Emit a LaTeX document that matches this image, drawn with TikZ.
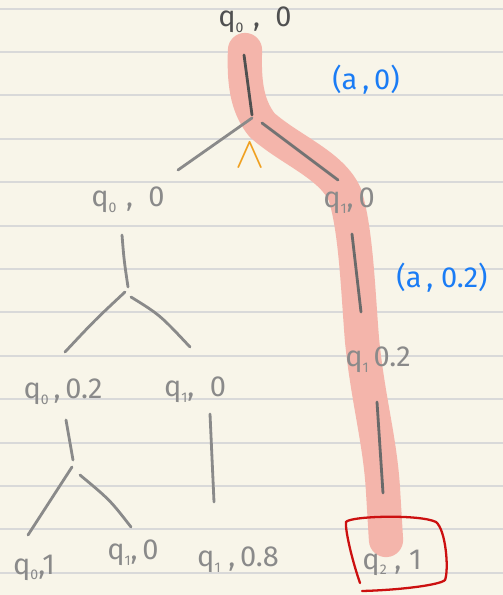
\documentclass[tikz,border=0pt]{standalone}
\usepackage{fontspec}
\setmainfont{Fira Sans}
\definecolor{paper}{HTML}{F8F5E9}
\definecolor{rule}{HTML}{D9D9D9}
\definecolor{inkdark}{HTML}{505050}
\definecolor{inkgray}{HTML}{8A8A8A}
\definecolor{inkblue}{HTML}{1A7CF5}
\definecolor{inkorange}{HTML}{F0A020}
\definecolor{inkred}{HTML}{CC1010}
\definecolor{hilite}{HTML}{F4B5AB}
\newcommand{\qsb}[1]{q\raisebox{-0.35ex}{\footnotesize #1}}
\begin{document}
\begin{tikzpicture}[x=0.02cm,y=-0.02cm,
  lbl/.style={font=\fontsize{16.5}{16.5}\selectfont, text=inkgray, inner sep=0pt},
  lbldark/.style={lbl, text=inkdark},
  note/.style={font=\fontsize{16.5}{16.5}\selectfont, text=inkblue, inner sep=0pt},
  stroke/.style={draw=inkgray, line width=1.6pt, line cap=round},
  strokedark/.style={draw=inkdark, line width=1.6pt, line cap=round},
  hl/.style={draw=hilite, line width=19.5pt, line cap=round, line join=round}]
% paper
\fill[paper] (0,0) rectangle (503,595);
\useasboundingbox (0,0) rectangle (503,595);
\foreach \k in {0,...,13}{
  \draw[rule, line width=1.1pt] (0,{8.6+43.4*\k}) -- (503,{8.6+43.4*\k});
}
% highlight
\draw[hl] (245,50) .. controls (244,80) and (246,105) .. (262,125)
  .. controls (290,150) and (332,165) .. (345,195)
  .. controls (356,230) and (358,290) .. (362,340)
  .. controls (368,400) and (380,440) .. (383,490) -- (386,540);
% labels
\node[lbldark] (r) at (255,20) {\qsb{0}\,\,,\ \ 0};
\node[lbl] (a) at (128,200) {\qsb{0}\,\,,\ \ 0};
\node[lbl] (b) at (349,201) {\qsb{1},\,0};
\node[lbl] (aa) at (63,392) {\qsb{0}\,,\,0.2};
\node[lbl] (ab) at (195,390) {\qsb{1},\ \ 0};
\node[lbl] (ba) at (378,360) {\qsb{1}\,0.2};
\node[lbl] (aaa) at (34,568) {\qsb{0},1};
\node[lbl] (aab) at (133,553) {\qsb{1},\,0};
\node[lbl] (aba) at (238,560) {\qsb{1}\ ,\,0.8};
\node[lbl] (baa) at (392,563) {\qsb{2}\ ,\ 1};
\node[note] (n1) at (366,80) {(a\,,\,0)};
\node[note] (n2) at (442,278) {(a\,,\ 0.2)};
\node[text=inkorange, inner sep=0pt, font=\fontsize{34}{34}\selectfont] (and) at (250,155) {$\wedge$};
% junctions and stroke ends
\coordinate (r1) at (244,55);  \coordinate (rj) at (252,115);
\coordinate (rl) at (252,118); \coordinate (al) at (178,170);
\coordinate (rr) at (262,123); \coordinate (br) at (338,180);
\coordinate (a1) at (122,235); \coordinate (aj) at (128,287);
\coordinate (ajl) at (125,292); \coordinate (aal) at (65,352);
\coordinate (ajr) at (131,297); \coordinate (abr) at (190,347);
\coordinate (aa1) at (66,420); \coordinate (aaj) at (73,460);
\coordinate (aajl) at (72,467); \coordinate (aaal) at (28,535);
\coordinate (aajr) at (80,475); \coordinate (aabr) at (131,527);
\coordinate (ab1) at (210,414); \coordinate (ab2) at (214,502);
\coordinate (b1) at (352,234); \coordinate (b2) at (361,312);
\coordinate (ba1) at (377,402); \coordinate (ba2) at (383,493);
% strokes
\draw[strokedark] (r1) -- (rj);
\draw[stroke] (rl) -- (al);
\draw[stroke, draw=inkdark!80] (rr) -- (br);
\draw[stroke] (a1) .. controls (124,260) .. (aj);
\draw[stroke] (ajl) .. controls (95,320) .. (aal);
\draw[stroke] (ajr) .. controls (160,315) .. (abr);
\draw[stroke] (aa1) -- (aaj);
\draw[stroke] (aajl) -- (aaal);
\draw[stroke] (aajr) .. controls (110,500) .. (aabr);
\draw[stroke] (ab1) -- (ab2);
\draw[strokedark, draw=inkdark!85] (b1) -- (b2);
\draw[strokedark, draw=inkdark!85] (ba1) -- (ba2);
% red box round q2,1
\draw[inkred, line width=1.3pt, line cap=round]
  (360,583) .. controls (352,560) and (345,530) .. (346,522)
  .. controls (350,516) and (420,514) .. (436,522)
  .. controls (446,530) and (449,570) .. (445,580)
  .. controls (440,585) and (400,590) .. (362,591);
\end{tikzpicture}
\end{document}
